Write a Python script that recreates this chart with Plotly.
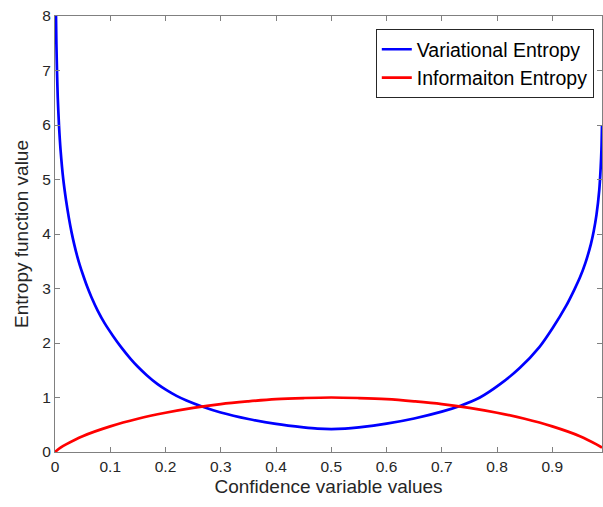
import plotly.graph_objects as go

# Variational entropy (blue)
var_x = [0.0015, 0.0025, 0.0036, 0.005, 0.0072, 0.01, 0.015, 0.02, 0.025, 0.03, 0.035,
         0.04, 0.045, 0.05, 0.058, 0.066, 0.077, 0.09, 0.105, 0.12, 0.136, 0.15,
         0.166, 0.185, 0.202, 0.22, 0.238, 0.266, 0.3, 0.35, 0.4, 0.45, 0.475, 0.5,
         0.525, 0.55, 0.6, 0.65, 0.7, 0.734, 0.769, 0.805, 0.841, 0.877, 0.901, 0.925,
         0.94, 0.95, 0.96, 0.97, 0.975, 0.98, 0.985, 0.9875, 0.989, 0.99]
var_y = [8.2, 7.5, 7.0, 6.5, 6.0, 5.55, 5.0, 4.62, 4.30, 4.03, 3.80,
         3.60, 3.425, 3.27, 3.04, 2.84, 2.60, 2.36, 2.13, 1.92, 1.72, 1.565,
         1.41, 1.25, 1.135, 1.03, 0.945, 0.835, 0.725, 0.605, 0.515, 0.452, 0.428, 0.42,
         0.428, 0.452, 0.52, 0.615, 0.74, 0.85, 1.0, 1.24, 1.54, 1.93, 2.28, 2.68,
         2.98, 3.2, 3.47, 3.82, 4.05, 4.35, 4.8, 5.2, 5.55, 6.0]

# Information entropy (red)
info_x = [0, 0.01, 0.02, 0.05, 0.1, 0.15, 0.2, 0.25, 0.3, 0.35, 0.4, 0.45, 0.5,
          0.55, 0.6, 0.65, 0.7, 0.75, 0.8, 0.85, 0.9, 0.95, 0.98, 0.99]
info_y = [0, 0.08, 0.14, 0.29, 0.47, 0.61, 0.72, 0.81, 0.88, 0.93, 0.97, 0.99, 1.0,
          0.99, 0.97, 0.93, 0.88, 0.81, 0.72, 0.61, 0.47, 0.29, 0.14, 0.08]

x_ticks = [0, 0.1, 0.2, 0.3, 0.4, 0.5, 0.6, 0.7, 0.8, 0.9]
x_tick_text = ["0", "0.1", "0.2", "0.3", "0.4", "0.5", "0.6", "0.7", "0.8", "0.9"]
y_ticks = [0, 1, 2, 3, 4, 5, 6, 7, 8]

FONT = "Liberation Sans, Arial"

fig = go.Figure()
fig.add_trace(go.Scatter(x=var_x, y=var_y, mode="lines", name="Variational Entropy",
                         line=dict(color="#0000ff", width=2.7, shape="spline", smoothing=0.7)))
fig.add_trace(go.Scatter(x=info_x, y=info_y, mode="lines", name="Informaiton Entropy",
                         line=dict(color="#ff0000", width=2.7, shape="spline", smoothing=1.0)))

axis_common = dict(showline=True, linecolor="#808080", linewidth=1, mirror="ticks",
                   ticks="inside", ticklen=5, tickcolor="#808080", showgrid=False,
                   zeroline=False, tickfont=dict(family=FONT, size=15.5, color="#262626"))

fig.update_layout(
    width=603, height=507,
    margin=dict(l=55, r=1, t=16, b=55, autoexpand=False),
    paper_bgcolor="white", plot_bgcolor="white",
    xaxis=dict(range=[0, 0.99], tickvals=x_ticks, ticktext=x_tick_text,
               title=dict(text="Confidence variable values", standoff=6,
                          font=dict(family=FONT, size=19, color="#262626")),
               **axis_common),
    yaxis=dict(range=[0, 8], tickvals=y_ticks,
               title=dict(text="Entropy function value", standoff=8,
                          font=dict(family=FONT, size=19, color="#262626")),
               **axis_common),
    legend=dict(x=0.985, y=0.97, xanchor="right", yanchor="top",
                bgcolor="white", bordercolor="#262626", borderwidth=1,
                font=dict(family=FONT, size=19.5, color="#000000"),
                tracegroupgap=0),
    showlegend=True,
)

fig.write_html("out.html", post_script="document.body.style.margin='0';",
               config={"displayModeBar": False})
